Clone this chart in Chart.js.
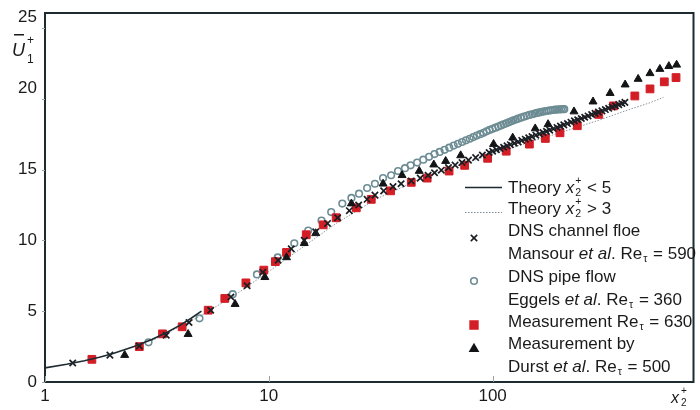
<!DOCTYPE html>
<html>
<head>
<meta charset="utf-8">
<script src="https://cdn.jsdelivr.net/npm/chart.js@4/dist/chart.umd.min.js"></script>
<style>
html, body { margin: 0; padding: 0; background: #fff; }
#wrap { width: 700px; height: 410px; }
</style>
</head>
<body>
<div id="wrap"><canvas id="profileChart" width="700" height="410"></canvas></div>
<script>
// axis ticks
const xTicks = [1, 10, 100];
const yTicks = [0, 5, 10, 15, 20, 25];

// theory, viscous sublayer
const linearX = [1, 1.25, 1.5, 1.75, 2, 2.5, 3, 3.5, 4, 4.5, 5];
const linearY = [1, 1.25, 1.5, 1.75, 2, 2.5, 3, 3.5, 4, 4.5, 5];

// theory, outer region
const outerX = [3, 5, 7, 10, 15, 20, 30, 50, 100, 150, 200, 250, 300, 400, 500, 580];
const outerY = [2.9, 4.7, 6.1, 7.8, 9.8, 11.2, 12.9, 14.5, 16.1, 17.0, 17.6, 18.1, 18.5, 19.2, 19.7, 20.1];

// DNS channel flow, Mansour et al.
const channelX = [1.33, 1.95, 2.64, 3.48, 4.4, 5.5, 6.77, 8.0, 9.4, 11.0, 12.6, 14.4, 16.2, 18.3, 20.3,
  22.9, 25.2, 27.5, 29.8, 32.6, 35.9, 39, 43.3, 47.5, 51.5, 55, 59, 63.5, 68, 73, 78, 84, 90, 96.5,
  100, 104, 108, 112, 116, 120, 125, 130, 135, 140, 145, 150, 156, 162, 168, 174, 180, 187, 194, 201,
  208, 216, 224, 232, 240, 249, 258, 267, 277, 287, 297, 308, 319, 330, 342, 354, 366, 378, 390];
const channelY = [1.34, 1.9, 2.54, 3.3, 4.2, 5.07, 6.0, 6.8, 7.75, 8.6, 9.4, 10.0, 10.6, 11.2, 11.6,
  12.1, 12.5, 12.9, 13.2, 13.5, 13.8, 14.0, 14.2, 14.4, 14.6, 14.78, 14.96, 15.14, 15.32, 15.5, 15.67,
  15.85, 16.03, 16.21, 16.3, 16.4, 16.49, 16.58, 16.68, 16.76, 16.86, 16.96, 17.06, 17.15, 17.24, 17.33,
  17.43, 17.52, 17.62, 17.7, 17.79, 17.89, 17.98, 18.07, 18.16, 18.25, 18.35, 18.44, 18.52, 18.61,
  18.7, 18.79, 18.89, 18.97, 19.06, 19.15, 19.24, 19.33, 19.42, 19.51, 19.59, 19.67, 19.75];

// DNS pipe flow, Eggels et al.
const pipeX = [2.9, 4.9, 6.9, 8.85, 10.96, 13.0, 15.0, 17.2, 19.0, 21.3, 23.4, 25.3, 27.5, 29.8, 32.4,
  35.2, 37.8, 40.6, 43, 46, 49, 52, 55, 58, 61, 64, 67, 70, 73, 76, 79, 82, 85, 88, 91, 94, 97, 100,
  103, 106, 109, 112, 115, 118, 121, 124, 127, 130, 134, 138, 142, 146, 150, 154, 158, 162, 166, 170,
  174, 178, 182, 186, 190, 194, 198, 202, 206, 209];
const pipeY = [2.8, 4.5, 6.2, 7.6, 8.8, 9.8, 10.7, 11.4, 12.0, 12.6, 13.0, 13.3, 13.7, 14.0, 14.4,
  14.6, 14.9, 15.1, 15.3, 15.5, 15.7, 15.9, 16.1, 16.25, 16.4, 16.55, 16.7, 16.82, 16.95, 17.07, 17.18,
  17.3, 17.4, 17.5, 17.6, 17.7, 17.8, 17.88, 17.96, 18.04, 18.12, 18.2, 18.27, 18.34, 18.41, 18.48,
  18.54, 18.6, 18.67, 18.74, 18.8, 18.86, 18.91, 18.96, 19.0, 19.04, 19.08, 19.11, 19.14, 19.17, 19.19,
  19.21, 19.23, 19.24, 19.25, 19.26, 19.27, 19.27];

// measurement, Re_tau = 630
const measX = [1.62, 2.64, 3.35, 4.1, 5.36, 6.36, 7.9, 9.5, 10.7, 12.0, 14.7, 17.5, 20.0, 24.6, 28.7,
  35, 43.3, 51, 63.9, 75, 95, 115, 146, 172, 200, 239, 298, 347, 432, 505, 585, 660];
const measY = [1.6, 2.5, 3.4, 3.9, 5.07, 5.9, 7.0, 7.9, 8.5, 9.15, 10.4, 11.1, 11.6, 12.3, 12.9,
  13.5, 14.1, 14.4, 14.9, 15.3, 15.8, 16.3, 16.8, 17.2, 17.6, 18.1, 18.9, 19.5, 20.2, 20.7, 21.2, 21.5];

// measurement, Durst et al.
const durstX = [2.27, 4.36, 7.07, 9.6, 12.0, 14.4, 16.2, 23.4, 32.4, 39.4, 47, 54.6, 61.7, 72, 101,
  123, 155, 177, 231, 281, 335, 391, 447, 505, 559, 613, 664];
const durstY = [1.9, 3.38, 5.5, 7.4, 8.8, 9.8, 10.5, 12.6, 14.0, 14.6, 14.9, 15.35, 15.6, 16.0, 16.8,
  17.25, 17.9, 18.2, 19.1, 19.8, 20.4, 21.0, 21.4, 21.8, 22.1, 22.3, 22.4];

const pts = (xs, ys) => xs.map((x, i) => ({ x: x, y: ys[i] }));

const FONT = "'Liberation Sans', Arial, sans-serif";
const INK = "#1d2b31";

// draws a run of text pieces: plain, italic, or subscript with optional superscript
function drawRich(ctx, x, y, parts, size) {
    let cx = x;
    parts.forEach(p => {
        if (p.sub !== undefined) {
            const s = size * 0.62;
            ctx.font = s + "px " + FONT;
            ctx.fillText(p.sub, cx + 1, y + size * 0.3);
            let w = ctx.measureText(p.sub).width;
            if (p.sup) {
                ctx.fillText(p.sup, cx + 1, y - size * 0.38);
                w = Math.max(w, ctx.measureText(p.sup).width);
            }
            cx += w + 2;
        } else {
            ctx.font = (p.it ? "italic " : "") + size + "px " + FONT;
            ctx.fillText(p.t, cx, y);
            cx += ctx.measureText(p.t).width;
        }
    });
}

const legendRows = [
    { y: 188, parts: [{ t: "Theory " }, { t: "x", it: true }, { sub: "2", sup: "+" }, { t: " < 5" }] },
    { y: 209, parts: [{ t: "Theory " }, { t: "x", it: true }, { sub: "2", sup: "+" }, { t: " > 3" }] },
    { y: 231, parts: [{ t: "DNS channel floe" }] },
    { y: 254, parts: [{ t: "Mansour " }, { t: "et al", it: true }, { t: ". Re" }, { sub: "\u03c4" }, { t: " = 590" }] },
    { y: 277, parts: [{ t: "DNS pipe flow" }] },
    { y: 300, parts: [{ t: "Eggels " }, { t: "et al", it: true }, { t: ". Re" }, { sub: "\u03c4" }, { t: " = 360" }] },
    { y: 322, parts: [{ t: "Measurement Re" }, { sub: "\u03c4" }, { t: " = 630" }] },
    { y: 344, parts: [{ t: "Measurement by" }] },
    { y: 367, parts: [{ t: "Durst " }, { t: "et al", it: true }, { t: ". Re" }, { sub: "\u03c4" }, { t: " = 500" }] }
];

const decorPlugin = {
    id: "decor",
    afterDraw(chart) {
        const ctx = chart.ctx;
        const a = chart.chartArea;
        const xs = chart.scales.x, ys = chart.scales.y;
        ctx.save();

        // frame
        ctx.strokeStyle = INK;
        ctx.lineWidth = 2;
        ctx.strokeRect(a.left, a.top, a.right - a.left, a.bottom - a.top);

        // small tick marks
        ctx.lineWidth = 1;
        ctx.strokeStyle = "#9aa5aa";
        xTicks.forEach(v => {
            const px = Math.round(xs.getPixelForValue(v)) + 0.5;
            ctx.beginPath(); ctx.moveTo(px, a.bottom); ctx.lineTo(px, a.bottom - 6); ctx.stroke();
        });
        yTicks.forEach(v => {
            const py = Math.round(ys.getPixelForValue(v)) + 0.5;
            ctx.beginPath(); ctx.moveTo(a.left - 3, py); ctx.lineTo(a.left, py); ctx.stroke();
        });

        // axis titles
        ctx.fillStyle = "#1a1a1a";
        ctx.textBaseline = "alphabetic";
        ctx.textAlign = "left";
        ctx.font = "italic 18px " + FONT;
        ctx.fillText("U", 12, 56);
        ctx.fillRect(14, 34, 10, 1.5);
        ctx.font = "12px " + FONT;
        ctx.fillText("+", 27, 44);
        ctx.fillText("1", 27, 63);
        ctx.font = "italic 16px " + FONT;
        ctx.fillText("x", 671, 403);
        ctx.font = "10px " + FONT;
        ctx.fillText("+", 681, 394);
        ctx.fillText("2", 681, 406);

        // legend
        ctx.textBaseline = "middle";
        legendRows.forEach(r => drawRich(ctx, 508, r.y, r.parts, 17));

        ctx.strokeStyle = INK;
        ctx.lineWidth = 1.6;
        ctx.beginPath(); ctx.moveTo(465, 187.5); ctx.lineTo(502, 187.5); ctx.stroke();
        ctx.strokeStyle = "#7d8a92";
        ctx.lineWidth = 1;
        ctx.setLineDash([1.5, 1.5]);
        ctx.beginPath(); ctx.moveTo(465, 212.5); ctx.lineTo(502, 212.5); ctx.stroke();
        ctx.setLineDash([]);

        const marks = [
            { y: 238, style: "crossRot", r: 4.5, fill: "#1b1f24", stroke: "#1b1f24" },
            { y: 281, style: "circle", r: 3.3, fill: "#ffffff", stroke: "#6d8c94" },
            { y: 325, style: "rect", r: 5.5, fill: "#d41e26", stroke: "#d41e26" },
            { y: 349, style: "triangle", r: 4.6, fill: "#121416", stroke: "#121416" }
        ];
        marks.forEach(m => {
            ctx.fillStyle = m.fill;
            ctx.strokeStyle = m.stroke;
            ctx.lineWidth = 1.6;
            Chart.helpers.drawPoint(ctx, { pointStyle: m.style, radius: m.r, rotation: 0, borderWidth: 1.6 }, 474, m.y);
        });
        ctx.restore();
    }
};

const ctx = document.getElementById("profileChart").getContext("2d");

new Chart(ctx, {
    type: "scatter",
    data: {
        datasets: [
            {
                label: "Theory x2+ < 5",
                data: pts(linearX, linearY),
                showLine: true,
                borderColor: INK,
                borderWidth: 1.6,
                pointRadius: 0,
                order: 1
            },
            {
                label: "Theory x2+ > 3",
                data: pts(outerX, outerY),
                showLine: true,
                borderColor: "#8a96a0",
                borderWidth: 1,
                borderDash: [1.5, 1.5],
                pointRadius: 0,
                order: 6
            },
            {
                label: "DNS channel floe",
                data: pts(channelX, channelY),
                pointStyle: "crossRot",
                pointRadius: 4.5,
                borderColor: "#1b1f24",
                borderWidth: 1.7,
                order: 2
            },
            {
                label: "DNS pipe flow",
                data: pts(pipeX, pipeY),
                pointStyle: "circle",
                pointRadius: 3.3,
                borderColor: "#6d8c94",
                backgroundColor: "rgba(255,255,255,0)",
                borderWidth: 1.6,
                order: 5
            },
            {
                label: "Measurement Re 630",
                data: pts(measX, measY),
                pointStyle: "rect",
                pointRadius: 5.5,
                borderColor: "#d41e26",
                backgroundColor: "#d41e26",
                borderWidth: 1,
                order: 4
            },
            {
                label: "Durst et al. Re 500",
                data: pts(durstX, durstY),
                pointStyle: "triangle",
                pointRadius: 4.6,
                borderColor: "#121416",
                backgroundColor: "#121416",
                borderWidth: 1,
                order: 3
            }
        ]
    },
    options: {
        responsive: false,
        animation: false,
        devicePixelRatio: 1,
        layout: { padding: { top: 13, right: 3, left: 0, bottom: 0 } },
        plugins: {
            legend: { display: false },
            tooltip: { enabled: false }
        },
        scales: {
            x: {
                type: "logarithmic",
                min: 1,
                max: 790,
                afterBuildTicks: s => { s.ticks = xTicks.map(v => ({ value: v })); },
                afterFit: s => { s.height = 28; },
                ticks: {
                    color: "#1a1a1a",
                    padding: 4,
                    font: { family: FONT, size: 17 },
                    callback: v => String(v),
                    maxRotation: 0
                },
                grid: { display: false, drawTicks: false },
                border: { color: INK, width: 2 }
            },
            y: {
                min: 0,
                max: 26.06,
                afterBuildTicks: s => { s.ticks = yTicks.map(v => ({ value: v })); },
                afterFit: s => {
                    s.width = 45;
                    s.paddingTop = 0;
                    s.paddingBottom = 0;
                },
                ticks: {
                    color: "#1a1a1a",
                    padding: 8,
                    font: { family: FONT, size: 17 },
                    // the two top labels sit a little above their tick
                    callback: v => (v >= 20 ? [String(v), ""] : String(v))
                },
                grid: { display: false, drawTicks: false },
                border: { color: INK, width: 2 }
            }
        }
    },
    plugins: [decorPlugin]
});
</script>
</body>
</html>
